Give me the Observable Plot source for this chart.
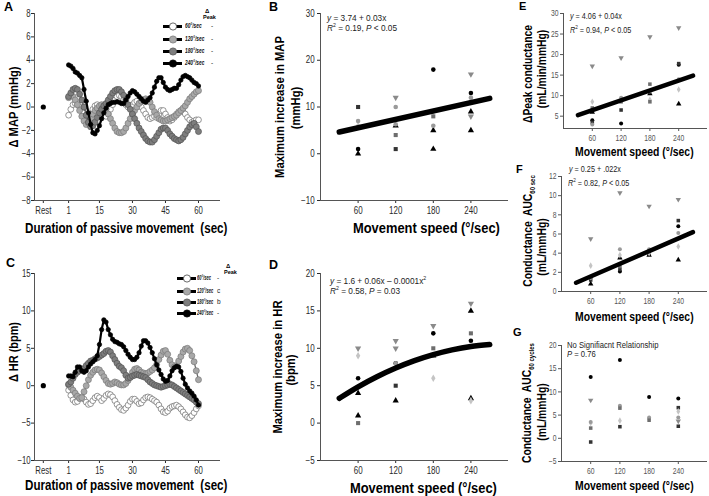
<!DOCTYPE html>
<html><head><meta charset="utf-8">
<script src="https://cdn.jsdelivr.net/npm/d3@7"></script>
<script src="https://cdn.jsdelivr.net/npm/@observablehq/plot@0.6"></script>
<style>
body{margin:0;background:#fff;}
#fig{position:relative;width:709px;height:496px;background:#fff;overflow:hidden;font-family:'Liberation Sans',Arial,sans-serif;}
#fig svg.plot-panel{position:absolute;background:transparent;overflow:visible;}
</style></head>
<body><div id="fig"></div>
<script>
// ---------- DATA ----------
const REST = -10.5;
const seconds = [1,2,3,4,5,6,7,8,9,10,11,12,13,14,15,16,17,18,19,20,21,22,23,24,25,26,27,28,29,30,31,32,33,34,35,36,37,38,39,40,41,42,43,44,45,46,47,48,49,50,51,52,53,54,55,56,57,58,59,60];
const timeTicks = [REST, 1, 15, 30, 45, 60];
const speedLabels = ["60°/sec", "120°/sec", "180°/sec", "240°/sec"];
const mapPeakLetters = ["-", "-", "-", "-"];
const hrPeakLetters = ["-", "c", "b", "-"];

// Panel A: change in MAP (mmHg)
const mapS60 = [-0.7,-0.2,0.2,0.3,0.2,0.0,-0.2,-0.5,-0.7,-0.8, -0.6,-0.2,0.1,0.2,0.0,-0.4,-0.7,-0.8,-0.6,-0.2, 0.2,0.6,0.9,1.0,0.9,0.6,0.2,0.0,0.0,0.2, 0.4,0.5,0.3,0.0,-0.3,-0.6,-0.9,-1.0,-0.9,-0.8, -0.9,-0.6,-0.3,-0.3,-0.6,-0.9,-1.2,-1.1,-0.9,-0.6, -0.4,-0.3,-0.4,-0.6,-0.9,-1.1,-1.3,-1.2,-1.1,-1.1];
const mapS120 = [0.8,1.0,0.9,0.6,0.2,-0.3,-0.8,-1.2,-1.5,-1.4, -1.0,-0.6,-0.3,-0.1,0.1,0.2,0.1,-0.2,-0.6,-1.0, -1.4,-1.8,-2.1,-2.2,-2.2,-2.1,-1.8,-1.4,-1.0,-0.6, -0.3,0.0,0.3,0.5,0.6,0.7,0.6,0.4,0.0,-0.4, -0.7,-1.0,-1.1,-1.2,-1.2,-1.1,-1.0,-0.9,-0.8,-0.7, -0.5,-0.3,-0.1,0.1,0.4,0.7,0.9,1.1,1.3,1.4];
const mapS180 = [0.9,1.2,1.5,1.6,1.5,1.1,0.6,0.0,-0.7,-1.3, -1.7,-1.6,-1.3,-0.9,-0.5,-0.2,0.1,0.3,0.6,0.9, 1.2,1.4,1.5,1.5,1.3,1.0,0.6,0.2,-0.2,-0.6, -1.0,-1.4,-1.8,-2.1,-2.4,-2.7,-2.9,-3.0,-3.0,-2.8, -2.5,-2.2,-1.9,-1.8,-1.8,-2.0,-2.3,-2.5,-2.7,-2.8, -2.9,-2.8,-2.6,-2.3,-2.0,-1.7,-1.5,-1.4,-1.7,-2.1];
const mapS240 = [3.6,3.5,3.3,3.0,2.9,2.7,2.5,1.5,0.5,-0.5, -1.5,-2.2,-2.3,-2.0,-1.6,-1.0,-0.5,-0.1,0.2,0.3, 0.4,0.4,0.45,0.4,0.3,0.3,0.6,0.9,1.2,1.4, 1.3,1.1,0.9,0.7,0.5,0.4,0.6,0.8,1.2,1.7, 2.2,2.5,2.5,2.1,1.7,1.5,1.4,1.5,1.6,1.6, 1.9,2.3,2.6,2.7,2.6,2.5,2.3,2.1,2.0,1.8];

// Panel C: change in HR (bpm)
const hrS60 = [-0.6,-1.3,-1.9,-2.2,-2.1,-1.7,-1.5,-1.8,-2.2,-2.5, -2.4,-2.0,-1.6,-1.4,-1.6,-2.0,-1.7,-1.3,-1.1,-1.2, -1.5,-2.0,-2.5,-2.9,-3.2,-3.3,-3.0,-2.6,-2.1,-1.8, -1.8,-2.1,-2.4,-2.3,-1.9,-1.6,-1.5,-1.6,-1.8,-2.0, -2.2,-2.6,-3.1,-3.5,-3.6,-3.4,-3.0,-2.8,-2.7,-2.6, -2.8,-3.1,-3.5,-3.9,-4.2,-4.3,-4.0,-3.6,-3.1,-2.7];
const hrS120 = [0.1,-0.2,-0.6,-1.0,-1.4,-1.7,-1.6,-0.8,0.0,0.8, 1.4,1.8,2.1,2.2,2.1,1.7,1.2,0.7,0.3,0.2, 0.3,0.5,0.4,0.2,0.1,0.1,0.3,0.7,1.2,1.8, 2.2,2.3,2.1,1.8,1.7,1.6,1.7,1.9,2.1,2.4, 2.8,3.5,4.1,4.6,4.7,4.2,3.4,2.8,2.5,2.7, 3.3,3.9,4.5,4.9,5.0,4.7,4.0,3.2,2.0,0.8];
const hrS180 = [0.2,0.5,1.0,1.5,1.8,2.0,2.1,2.3,2.7,3.0, 3.3,3.4,3.6,3.7,3.9,4.1,4.3,4.6,4.7,4.5, 4.0,3.5,3.0,2.6,2.4,2.0,1.4,1.0,1.1,1.3, 1.4,1.5,1.4,1.3,1.2,1.1,0.8,0.5,0.3,0.1, 0.0,-0.1,-0.2,-0.1,0.0,0.1,0.2,0.1,-0.1,-0.3, -0.5,-0.7,-0.9,-1.1,-1.3,-1.5,-1.7,-1.9,-2.2,-2.4];
const hrS240 = [1.3,1.3,1.2,1.8,2.5,2.5,2.0,1.8,2.0,2.5, 2.9,3.2,3.5,4.0,5.5,7.5,8.8,8.5,7.5,6.8, 6.2,5.9,5.8,5.6,5.5,5.2,4.7,4.2,3.8,3.5, 3.5,3.8,4.4,5.3,6.0,6.0,5.7,5.1,4.4,3.6, 2.8,2.1,1.5,0.9,0.6,0.7,1.3,2.0,2.4,2.6, 2.5,1.9,1.0,0.2,-0.3,-0.7,-1.0,-1.4,-1.9,-2.6];

// Speed panels (individual subjects)
const speedTicks = [60, 120, 180, 240];
const bSpeed = [60,60,60,60,60, 120,120,120,120,120,120, 180,180,180,180,180,180, 240,240,240,240,240,240,240];
const bMap   = [10,7,6,1,0, 12,10,6.3,6,4,1, 18,9,8,6,5,1, 17,13,12,11,9,8,5];
const bMark  = ["bs","gc","ld","bc","bt", "gv","gc","gc","bt","gs","bs", "bc","ld","gs","gc","bt","bt", "gv","bc","gc","gs","bt","gv","bt"];
const bFitX = [30, 270];
const bFitY = [4.64, 11.84];

const dSpeed = [60,60,60,60,60,60, 120,120,120,120,120,120, 180,180,180,180,180, 240,240,240,240,240,240];
const dHr    = [10,9,6,4,1,0, 11,10,8,8,5,3, 13,12,10,9,6, 16,15,12,11,3.3,3];
const dMark  = ["gv","ld","bc","bt","bt","gs", "gv","gv","bc","gc","bs","bt", "gv","bc","gs","bt","ld", "gv","bt","gs","bc","bt","ld"];
const dFitX = [30, 60, 90, 120, 150, 180, 210, 240, 270];
const dFitY = [3.31, 4.84, 6.19, 7.36, 8.35, 9.16, 9.79, 10.24, 10.51];

const eSpeed = [60,60,60,60,60,60,60,60, 120,120,120,120,120,120, 180,180,180,180,180,180, 240,240,240,240,240,240];
const ePeak  = [17.2,8.5,7,6.5,6,4,3.5,3, 19.2,9.5,9,8.5,6.5,3.2, 24.3,12.8,11,10.5,9,8.5, 26.5,17.8,17.5,14,11.5,8];
const eMark  = ["gv","ld","gs","gc","bt","bc","bs","gc", "gv","gc","bt","gs","bs","bc", "gv","gs","gc","bt","ld","gs", "gv","bs","bc","gc","ld","bt"];
const eFitX = [30, 270];
const eFitY = [5.26, 14.86];

const fSpeed = [60,60,60,60,60,60, 120,120,120,120,120,120,120, 180,180,180,180,180,180, 240,240,240,240,240,240];
const fAuc   = [5.5,2.7,1.5,1.4,1.2,0.8, 10.3,4.4,3.8,3.5,2.6,2.3,2.1, 8.9,4.4,4.2,4.0,3.9,3.8, 9.6,7.4,6.8,6.1,4.7,3.3];
const fMark  = ["gv","ld","gs","gc","bs","bt", "gv","gc","ld","bt","gs","bs","bc", "gv","gc","gs","ld","bs","bt", "gv","bs","bc","gc","ld","bt"];
const fFitX = [30, 270];
const fFitY = [0.91, 6.19];

const gSpeed = [60,60,60,60,60,60, 120,120,120,120,120, 180,180,180,180, 240,240,240,240,240,240];
const gAuc   = [13.2,8.2,3.5,3.3,2.2,-0.8, 16.9,7,6.5,3.8,2.5, 8.9,4.5,4.2,3.9, 8.6,6.6,5.8,4.5,3.7,2.6];
const gMark  = ["bc","gv","gc","ld","gs","bs", "bc","gc","gs","ld","bs", "bc","gc","ld","gs", "bc","bs","ld","gc","gv","bs"];

// ---------- STYLES ----------
const FONT = "'Liberation Sans', Arial, sans-serif";
const markerStyle = {
  bc: {symbol: "circle", fill: "#000"},
  bs: {symbol: "square", fill: "#333"},
  bt: {symbol: "triangle", fill: "#000"},
  gv: {symbol: "triangle", fill: "#8a8a8a", rotate: 180},
  ld: {symbol: "diamond", fill: "#c4c4c4"},
  gc: {symbol: "circle", fill: "#9a9a9a"},
  gs: {symbol: "square", fill: "#6e6e6e"}
};
const seriesStyle = [
  {fill: "#fff", stroke: "#6a6a6a", line: "#8a8a8a", lw: 1, r: 2.9},
  {fill: "#a8a8a8", stroke: "#7a7a7a", line: "#666", lw: 1.2, r: 3},
  {fill: "#7e7e7e", stroke: "#555", line: "#444", lw: 1.2, r: 3},
  {fill: "#000", stroke: "#000", line: "#000", lw: 2.2, r: 2.2}
];

const fig = document.getElementById("fig");

// compress tick label glyphs horizontally around their anchor (must be in DOM)
function squeeze(svg, sx) {
  svg.querySelectorAll('g[aria-label$="tick label"] text').forEach(t => {
    const bb = t.getBBox();
    const anchor = t.getAttribute("text-anchor") || t.parentNode.getAttribute("text-anchor") || "middle";
    const ax = anchor === "end" ? bb.x + bb.width : anchor === "start" ? bb.x : bb.x + bb.width / 2;
    const tr = t.getAttribute("transform") || "";
    t.setAttribute("transform", `${tr} translate(${ax},0) scale(${sx},1) translate(${-ax},0)`);
  });
}

function place(svg, left, top) {
  svg.classList.add("plot-panel");
  svg.style.left = left + "px";
  svg.style.top = top + "px";
  fig.appendChild(svg);
}

function timePanel(series, yDomain, yTicks, top) {
  const marks = [
    Plot.ruleX([-14.5], {stroke: "#555", strokeWidth: 1}),
    Plot.ruleY([yDomain[0]], {stroke: "#555", strokeWidth: 1})
  ];
  series.forEach((vals, si) => {
    const st = seriesStyle[si];
    const rows = vals.map((v, i) => ({t: seconds[i], v}));
    marks.push(Plot.line(rows, {x: "t", y: "v", stroke: st.line, strokeWidth: st.lw}));
    marks.push(Plot.dot(rows, {x: "t", y: "v", r: st.r, fill: st.fill, stroke: st.stroke, strokeWidth: 0.7}));
  });
  marks.push(Plot.dot([{t: REST, v: 0}], {x: "t", y: "v", r: 2.6, fill: "#000"}));
  const svg = Plot.plot({
    width: 230, height: 220, marginLeft: 34, marginRight: 10, marginTop: 13, marginBottom: 20,
    style: {fontFamily: FONT, fontSize: "10px", color: "#2a2a2a", background: "transparent"},
    x: {domain: [-14.5, 70], ticks: timeTicks, tickFormat: d => d === REST ? "Rest" : String(d), tickSize: 3, tickPadding: 3, label: null},
    y: {domain: yDomain, ticks: yTicks, tickSize: 3, tickPadding: 1, label: null},
    marks
  });
  place(svg, 0, top);
  squeeze(svg, 0.78);
}

function speedPanel(xs, ys, ms, fitX, fitY, yDomain, yTicks, opts) {
  const pts = xs.map((x, i) => ({x, y: ys[i], m: ms[i]}));
  const marks = [
    Plot.ruleX([0], {stroke: "#555", strokeWidth: 1}),
    Plot.ruleY([yDomain[0]], {stroke: "#555", strokeWidth: 1})
  ];
  Object.keys(markerStyle).forEach(k => {
    const st = markerStyle[k];
    const sub = pts.filter(p => p.m === k);
    if (sub.length) marks.push(Plot.dot(sub, {x: "x", y: "y", symbol: st.symbol, fill: st.fill, rotate: st.rotate || 0, r: opts.r}));
  });
  if (fitX) {
    const fit = fitX.map((x, i) => ({x, y: fitY[i]}));
    marks.push(Plot.line(fit, {x: "x", y: "y", stroke: "#000", strokeWidth: opts.lw, curve: "natural", strokeLinecap: "round"}));
  }
  const svg = Plot.plot({
    width: opts.width, height: opts.height,
    marginLeft: opts.ml, marginRight: opts.mr, marginTop: 13, marginBottom: opts.mb,
    style: {fontFamily: FONT, fontSize: opts.fs + "px", color: opts.tc, background: "transparent"},
    x: {domain: [0, 300], ticks: speedTicks, tickSize: 3, tickPadding: opts.xpad, label: null},
    y: {domain: yDomain, ticks: yTicks, tickSize: 3, tickPadding: opts.ypad, label: null},
    marks
  });
  place(svg, opts.left, opts.top);
  squeeze(svg, opts.sq);
}

// ---------- HTML text helpers ----------
function txt(html, x, baseline, fs, o = {}) {
  const d = document.createElement("div");
  d.innerHTML = html;
  d.style.cssText = `position:absolute;left:${x}px;top:${baseline - 0.847 * fs}px;font-size:${fs}px;line-height:1;white-space:nowrap;font-weight:${o.bold ? "bold" : "normal"};font-style:${o.italic ? "italic" : "normal"};transform-origin:0 0;transform:scaleX(${o.sx || 1});color:${o.color || "#000"};font-family:${FONT};`;
  fig.appendChild(d);
}
function vtxt(html, cx, cy, fs, o = {}) {
  const d = document.createElement("div");
  d.innerHTML = html;
  d.style.cssText = `position:absolute;left:${cx}px;top:${cy}px;font-size:${fs}px;line-height:1;white-space:nowrap;font-weight:${o.bold === false ? "normal" : "bold"};transform:translate(-50%,-50%) rotate(-90deg) scaleX(${o.sx || 1});color:#000;font-family:${FONT};`;
  fig.appendChild(d);
}
function legend(x0, rowY, textX, letterX, letters, head, sx) {
  speedLabels.forEach((lab, i) => {
    const st = seriesStyle[i];
    const s = document.createElementNS("http://www.w3.org/2000/svg", "svg");
    s.setAttribute("width", 20); s.setAttribute("height", 9);
    s.style.cssText = `position:absolute;left:${x0}px;top:${rowY[i] - 4.5}px;overflow:visible;`;
    s.innerHTML = `<line x1="0" x2="19" y1="4.5" y2="4.5" stroke="#000" stroke-width="3"/><circle cx="10" cy="4.5" r="3.6" fill="${st.fill}" stroke="${i === 0 ? "#444" : st.stroke}" stroke-width="0.8"/>`;
    fig.appendChild(s);
    txt(lab, textX, rowY[i] + 2.2, 6.5, {bold: true, italic: true, sx, color: "#111"});
    txt(letters[i], letterX, rowY[i] + 2.2, 6.5, {color: "#222"});
  });
  txt("Δ", head[0] + 2, head[1], 6, {bold: true});
  txt("Peak", head[0], head[1] + 6.5, 5.5, {bold: true});
}

// ---------- PANELS ----------
timePanel([mapS60, mapS120, mapS180, mapS240], [-8, 8], [-8, -6, -4, -2, 0, 2, 4, 6, 8], 0);
timePanel([hrS60, hrS120, hrS180, hrS240], [-10, 15], [-10, -5, 0, 5, 10, 15], 260);

const big = {width: 235, height: 220, ml: 35, mr: 12, mb: 20, fs: 10, tc: "#2a2a2a", xpad: 3, ypad: 3, sq: 0.8, r: 2.3, lw: 5.5, left: 285};
speedPanel(bSpeed, bMap, bMark, bFitX, bFitY, [-10, 30], [-10, 0, 10, 20, 30], {...big, top: 0});
speedPanel(dSpeed, dHr, dMark, dFitX, dFitY, [-5, 20], [-5, 0, 5, 10, 15, 20], {...big, top: 260});

const small = {width: 179, height: 145, mr: 2, fs: 8.5, tc: "#555", xpad: 3, ypad: 2, sq: 0.8, r: 2, lw: 4.5, left: 530};
speedPanel(eSpeed, ePeak, eMark, eFitX, eFitY, [2, 30], [5, 10, 15, 20, 25, 30], {...small, ml: 33, mb: 17, top: 0});
speedPanel(fSpeed, fAuc, fMark, fFitX, fFitY, [0, 12], [0, 2, 4, 6, 8, 10, 12], {...small, ml: 31, mb: 17, top: 163});
speedPanel(gSpeed, gAuc, gMark, null, null, [-5, 20], [-5, 0, 5, 10, 15, 20], {...small, ml: 31, mb: 16, top: 332});

// ---------- TEXT ----------
txt("A", 4, 12, 12.5, {bold: true});
txt("C", 6, 268, 12.5, {bold: true});
txt("B", 269, 12, 12.5, {bold: true});
txt("D", 269, 270, 12.5, {bold: true});
txt("E", 519, 10, 11, {bold: true});
txt("F", 516, 173, 11, {bold: true});
txt("G", 513, 336, 11, {bold: true});

txt("Duration of passive movement&nbsp; (sec)", 25, 233, 14.5, {bold: true, sx: 0.8});
txt("Duration of passive movement&nbsp; (sec)", 25, 490, 14.5, {bold: true, sx: 0.8});
txt("Movement speed (°/sec)", 353, 233, 14, {bold: true, sx: 0.92});
txt("Movement speed (°/sec)", 350, 493, 14, {bold: true, sx: 0.92});
txt("Movement speed (°/sec)", 575, 156, 13, {bold: true, sx: 0.8});
txt("Movement speed (°/sec)", 575, 321, 13, {bold: true, sx: 0.8});
txt("Movement speed (°/sec)", 575, 490, 13, {bold: true, sx: 0.8});

vtxt("Δ MAP (mmHg)", 13, 107, 13, {sx: 0.86});
vtxt("Δ HR (bpm)", 13, 352, 13, {sx: 0.84});
vtxt("Maximum increase in MAP", 280, 107, 12.5, {sx: 0.9});
vtxt("(mmHg)", 296, 108, 12.5, {sx: 0.9});
vtxt("Maximum increase in HR", 278, 367, 12.5, {sx: 0.9});
vtxt("(bpm)", 291, 370, 12.5, {sx: 0.9});
vtxt("ΔPeak conductance", 528, 74, 12, {sx: 0.86});
vtxt("(mL/min/mmHg)", 542, 69, 12, {sx: 0.86});
vtxt('Conductance&nbsp; AUC<span style="font-size:7px;position:relative;top:3px">60 sec</span>', 528, 231, 12, {sx: 0.86});
vtxt("(mL/mmHg)", 542, 247, 12, {sx: 0.86});
vtxt('Conductance&nbsp; AUC<span style="font-size:7px;position:relative;top:3px">60 cycles</span>', 527, 403, 12, {sx: 0.86});
vtxt("(mL/mmHg)", 542, 412, 12, {sx: 0.86});

txt("<i>y</i> = 3.74 + 0.03x", 327, 21, 9.5, {sx: 0.87, color: "#222"});
txt("<i>R</i><sup style='font-size:6px;line-height:0'>2</sup> = 0.19, <i>P</i> &lt; 0.05", 327, 31, 9.5, {sx: 0.87, color: "#222"});
txt("<i>y</i> = 1.6 + 0.06x – 0.0001x<sup style='font-size:6px;line-height:0'>2</sup>", 330, 284, 9.5, {sx: 0.87, color: "#222"});
txt("<i>R</i><sup style='font-size:6px;line-height:0'>2</sup> = 0.58, <i>P</i> = 0.03", 330, 294, 9.5, {sx: 0.87, color: "#222"});
txt("<i>y</i> = 4.06 + 0.04x", 570, 19, 8.5, {sx: 0.85, color: "#222"});
txt("<i>R</i><sup style='font-size:5.5px;line-height:0'>2</sup> = 0.94, <i>P</i> &lt; 0.05", 570, 33, 8.5, {sx: 0.85, color: "#222"});
txt("<i>y</i> = 0.25 + .022x", 569, 172, 8.5, {sx: 0.85, color: "#222"});
txt("<i>R</i><sup style='font-size:5.5px;line-height:0'>2</sup> = 0.82, <i>P</i> &lt; 0.05", 568, 186, 8.5, {sx: 0.85, color: "#222"});
txt("No Signifiacnt Relationship", 567, 348, 8.5, {sx: 0.9, color: "#222"});
txt("<i>P</i> = 0.76", 567, 357, 8.5, {sx: 0.9, color: "#222"});

legend(163, [26, 39, 51, 63], 185, 211, mapPeakLetters, [203, 13], 0.74);
legend(177, [278, 291, 302, 313], 197, 217, hrPeakLetters, [224, 268], 0.62);
</script>
</body></html>
